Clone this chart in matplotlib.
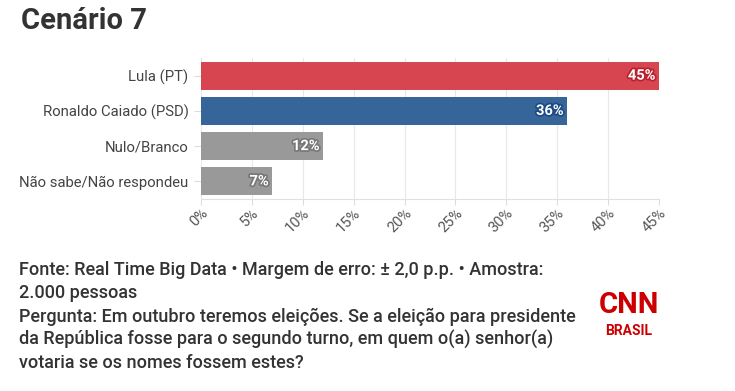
import matplotlib
matplotlib.use("Agg")
import matplotlib.pyplot as plt
import matplotlib.patheffects as pe
from matplotlib.ticker import MultipleLocator, FuncFormatter

plt.rcParams["font.family"] = ["Roboto", "DejaVu Sans"]

# Data
categories = ["Lula (PT)", "Ronaldo Caiado (PSD)", "Nulo/Branco", "Não sabe/Não respondeu"]
values = [45, 36, 12, 7]
bar_colors = ["#d64550", "#36659a", "#999999", "#999999"]
edge_colors = ["#b82230", "#1d4a85", "#777777", "#777777"]

title = "Cenário 7"
footer = [
    "Fonte: Real Time Big Data • Margem de erro: ± 2,0 p.p. • Amostra:",
    "2.000 pessoas",
    "Pergunta: Em outubro teremos eleições. Se a eleição para presidente",
    "da República fosse para o segundo turno, em quem o(a) senhor(a)",
    "votaria se os nomes fossem estes?",
]

W, H = 735, 391
fig = plt.figure(figsize=(W / 100, H / 100), dpi=100)
ax = fig.add_axes([201 / W, 1 - 199 / H, 458 / W, 141 / H])

y = range(len(categories))
ax.barh(y, values, height=0.8, color=bar_colors, zorder=3)
ax.set_ylim(3.5, -0.5)
ax.set_xlim(0, 45)
ax.set_yticks(list(y))
ax.set_yticklabels(categories, fontsize=10.7, color="#444444")
ax.xaxis.set_major_locator(MultipleLocator(5))
ax.xaxis.set_major_formatter(FuncFormatter(lambda v, p: f"{v:.0f}%"))
for lab in ax.get_xticklabels():
    lab.set_rotation(45)
    lab.set_ha("right")
    lab.set_rotation_mode("anchor")
ax.tick_params(axis="x", labelsize=10.5, colors="#555555", length=4, color="#dddddd", pad=1)
ax.tick_params(axis="y", length=5, color="#dddddd", pad=4)
ax.grid(axis="x", color="#e8e8e8", lw=0.8, zorder=0)
for s in ["top", "right", "left"]:
    ax.spines[s].set_visible(False)
ax.spines["bottom"].set_color("#e0e0e0")

for i, (v, ec) in enumerate(zip(values, edge_colors)):
    t = ax.text(v - 0.35, i, f"{v}%", ha="right", va="center", color="white",
                fontsize=10.5, fontweight="bold", zorder=4)
    t.set_path_effects([pe.withStroke(linewidth=2.5, foreground=ec)])

fig.text(21 / W, 1 - 21 / H, title, fontsize=21, fontweight="bold", color="#333333",
         va="center", ha="left", family=["Roboto", "DejaVu Sans"])

for k, line in enumerate(footer):
    fig.text(19 / W, 1 - (270 + k * 23.3) / H, line, fontsize=13, color="#333333",
             va="center", ha="left", fontweight="medium",
             family=["Roboto", "DejaVu Sans"])

# CNN Brasil logo
fig.text(629 / W, 1 - 305 / H, "CNN", fontsize=21, color="#cc0000", fontweight="bold",
         ha="center", va="center", family=["Roboto", "DejaVu Sans"])
fig.text(629 / W, 1 - 331 / H, "BRASIL", fontsize=10, color="#cc0000", fontweight="bold",
         ha="center", va="center")

fig.savefig("out.png", dpi=100, facecolor="white")
